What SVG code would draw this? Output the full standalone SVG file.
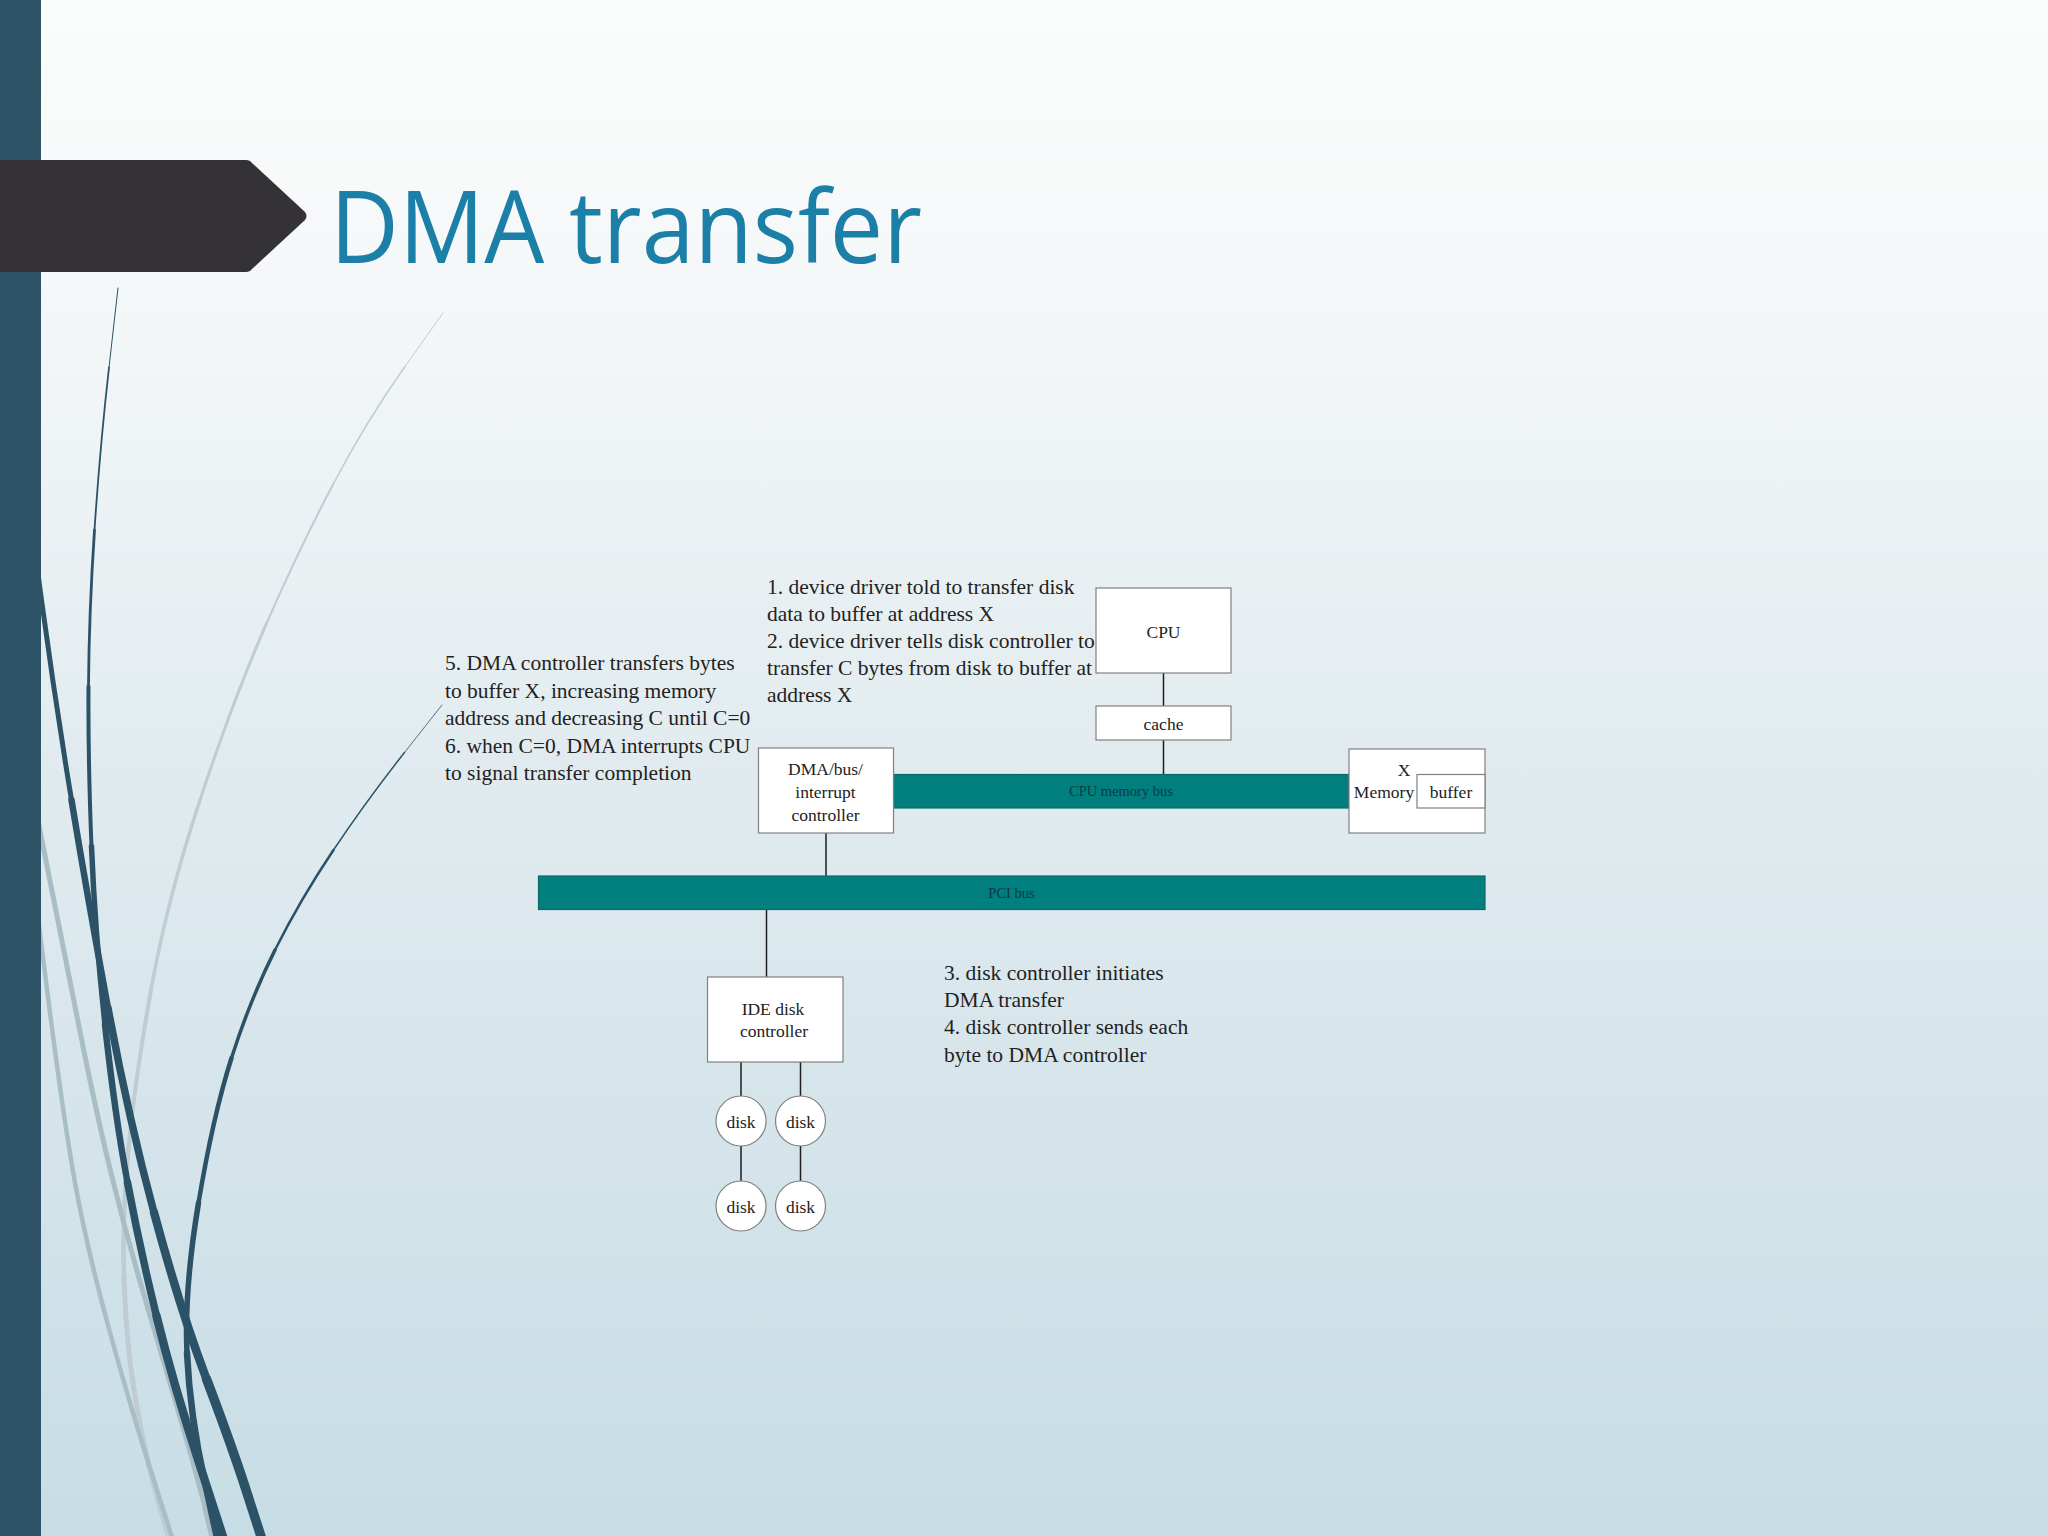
<svg xmlns="http://www.w3.org/2000/svg" width="2048" height="1536" viewBox="0 0 2048 1536">
  <defs>
    <linearGradient id="bg" x1="0" y1="0" x2="0" y2="1">
      <stop offset="0" stop-color="#fbfcfc"/>
      <stop offset="0.2" stop-color="#f4f7f8"/>
      <stop offset="0.5" stop-color="#e1ebef"/>
      <stop offset="1" stop-color="#c7dde5"/>
    </linearGradient>
    <style>
      .dk { fill: none; stroke: #2c5268; stroke-linecap: round; }
      .gl { fill: none; stroke: #bfccd2; stroke-linecap: round; }
      .gm { fill: none; stroke: #a9bdc5; stroke-linecap: round; }
      .box { fill: #ffffff; stroke: #808080; stroke-width: 1.2; }
      .bus { fill: #017f7f; stroke: #0a6a6a; stroke-width: 1.2; }
      .lbl { font-family: "Liberation Serif", "Times New Roman", serif; font-size: 17.5px; fill: #222222; text-anchor: middle; }
      .buslbl { font-family: "Liberation Serif", "Times New Roman", serif; font-size: 14.5px; fill: #0c3a40; text-anchor: middle; }
      .note { font-family: "Liberation Serif", "Times New Roman", serif; font-size: 21.5px; fill: #222222; }
      .conn { stroke: #1e1e1e; stroke-width: 1.5; fill: none; }
    </style>
  </defs>

  <rect x="0" y="0" width="2048" height="1536" fill="url(#bg)"/>

  <!-- decorative swooshes -->
  <g id="swooshes">
    <!-- light gray D -->
    <path class="gl" stroke-width="1" d="M443 313 L405 366.5"/>
    <path class="gl" stroke-width="1.5" d="M405 366.5 Q367 420 333.5 483.5"/>
    <path class="gl" stroke-width="2" d="M333.5 483.5 Q300 547 266.5 623.5"/>
    <path class="gl" stroke-width="3" d="M266.5 623.5 Q233 700 200 800"/>
    <path class="gl" stroke-width="3.5" d="M200 800 Q167 900 151 990"/>
    <path class="gl" stroke-width="4" d="M151 990 Q135 1080 128.5 1148"/>
    <path class="gl" stroke-width="4.5" d="M128.5 1148 Q122 1216 124 1278"/>
    <path class="gl" stroke-width="5" d="M124 1278 Q126 1340 134 1390 Q142 1440 155 1490 L172 1550"/>
    <!-- gray E -->
    <path class="gm" stroke-width="5" d="M30 780 L48.5 873.5 Q67 967 82 1041.5 Q97 1116 111 1173 Q125 1230 142.5 1290 Q160 1350 175 1400 Q190 1450 202.5 1497.5 L215 1550"/>
    <!-- gray F -->
    <path class="gm" stroke-width="4.5" d="M32 870 L47.5 993 Q63 1116 75 1182.5 Q87 1249 110 1332.5 Q133 1416 154 1480.5 L176 1550"/>
    <!-- dark A -->
    <path class="dk" stroke-width="1" d="M118 288 L109 367.5"/>
    <path class="dk" stroke-width="1.8" d="M109 367.5 Q100 447 94.5 530"/>
    <path class="dk" stroke-width="2.8" d="M94.5 530 Q89 613 88.5 686.5"/>
    <path class="dk" stroke-width="4" d="M88.5 686.5 Q88 760 91.5 846.5"/>
    <path class="dk" stroke-width="5.5" d="M91.5 846.5 Q95 933 105 1024.5"/>
    <path class="dk" stroke-width="6.5" d="M105 1024.5 Q115 1116 127.5 1182.5"/>
    <path class="dk" stroke-width="7.5" d="M127.5 1182.5 Q140 1249 156.5 1316"/>
    <path class="dk" stroke-width="8.5" d="M156.5 1316 Q173 1383 198 1459.5 L228 1552"/>
    <!-- dark B -->
    <path class="dk" stroke-width="5" d="M28 500 L41.5 600 Q55 700 71.5 800"/>
    <path class="dk" stroke-width="6.5" d="M71.5 800 Q88 900 108 1008"/>
    <path class="dk" stroke-width="7.5" d="M108 1008 Q128 1116 154 1212.5"/>
    <path class="dk" stroke-width="8.5" d="M154 1212.5 Q180 1309 206.5 1379"/>
    <path class="dk" stroke-width="9.5" d="M206.5 1379 Q233 1449 247.5 1494.5 L266 1552"/>
    <!-- dark C -->
    <path class="dk" stroke-width="0.8" d="M442 705 L404.5 752.5"/>
    <path class="dk" stroke-width="1.5" d="M404.5 752.5 Q367 800 333.5 850"/>
    <path class="dk" stroke-width="2.5" d="M333.5 850 Q300 900 275 950"/>
    <path class="dk" stroke-width="3.5" d="M275 950 Q250 1000 231.5 1058"/>
    <path class="dk" stroke-width="4.5" d="M231.5 1058 Q213 1116 198.5 1203"/>
    <path class="dk" stroke-width="5.5" d="M198.5 1203 Q184 1290 187 1353"/>
    <path class="dk" stroke-width="6.5" d="M187 1353 Q190 1416 205 1483 L220 1552"/>
  </g>

  <!-- left bar and title tab -->
  <rect x="0" y="0" width="41" height="1536" fill="#2e5366"/>
  <path d="M0 160 L246 160 Q250 160 252 163 L305 212 Q308 216 305 220 L252 269 Q250 272 246 272 L0 272 Z" fill="#343234"/>

  <text x="330" y="263" font-family="'Open Sans', 'Noto Sans', sans-serif" font-size="100" fill="#1b7fa8" textLength="592" lengthAdjust="spacingAndGlyphs">DMA transfer</text>

  <!-- connectors -->
  <g id="connectors">
    <line class="conn" x1="1163.5" y1="673" x2="1163.5" y2="706"/>
    <line class="conn" x1="1163.5" y1="740" x2="1163.5" y2="774"/>
    <line class="conn" x1="826" y1="833" x2="826" y2="876"/>
    <line class="conn" x1="766.5" y1="909" x2="766.5" y2="977"/>
    <line class="conn" x1="741" y1="1062" x2="741" y2="1096"/>
    <line class="conn" x1="800.5" y1="1062" x2="800.5" y2="1096"/>
    <line class="conn" x1="741" y1="1146" x2="741" y2="1181"/>
    <line class="conn" x1="800.5" y1="1146" x2="800.5" y2="1181"/>
  </g>

  <!-- nodes -->
  <g id="cpu">
    <rect class="box" x="1096" y="588" width="135" height="85"/>
    <text class="lbl" x="1163.5" y="638">CPU</text>
  </g>
  <g id="cache">
    <rect class="box" x="1096" y="706" width="135" height="34"/>
    <text class="lbl" x="1163.5" y="730">cache</text>
  </g>
  <g id="cpu-memory-bus">
    <rect class="bus" x="893" y="774.5" width="456" height="33.5"/>
    <text class="buslbl" x="1121" y="796">CPU memory bus</text>
  </g>
  <g id="memory">
    <rect class="box" x="1349" y="749" width="136" height="84"/>
    <text class="lbl" x="1404" y="776">X</text>
    <text class="lbl" x="1384" y="798">Memory</text>
  </g>
  <g id="buffer">
    <rect class="box" x="1417" y="774.5" width="68" height="33.5"/>
    <text class="lbl" x="1451" y="798">buffer</text>
  </g>
  <g id="dma-controller">
    <rect class="box" x="758.5" y="748" width="135" height="85"/>
    <text class="lbl" x="825.5" y="775">DMA/bus/</text>
    <text class="lbl" x="825.5" y="798">interrupt</text>
    <text class="lbl" x="825.5" y="821">controller</text>
  </g>
  <g id="pci-bus">
    <rect class="bus" x="538.5" y="876" width="946.5" height="33.5"/>
    <text class="buslbl" x="1011.5" y="898">PCI bus</text>
  </g>
  <g id="ide-controller">
    <rect class="box" x="707.5" y="977" width="135.5" height="85"/>
    <text class="lbl" x="773" y="1015">IDE disk</text>
    <text class="lbl" x="774" y="1037">controller</text>
  </g>
  <g id="disk1">
    <circle class="box" cx="741" cy="1121" r="25"/>
    <text class="lbl" x="741" y="1128">disk</text>
  </g>
  <g id="disk2">
    <circle class="box" cx="800.5" cy="1121" r="25"/>
    <text class="lbl" x="800.5" y="1128">disk</text>
  </g>
  <g id="disk3">
    <circle class="box" cx="741" cy="1206" r="25"/>
    <text class="lbl" x="741" y="1213">disk</text>
  </g>
  <g id="disk4">
    <circle class="box" cx="800.5" cy="1206" r="25"/>
    <text class="lbl" x="800.5" y="1213">disk</text>
  </g>

  <!-- step notes -->
  <g id="note-1-2">
    <text class="note" x="767" y="594">1. device driver told to transfer disk</text>
    <text class="note" x="767" y="621">data to buffer at address X</text>
    <text class="note" x="767" y="648">2. device driver tells disk controller to</text>
    <text class="note" x="767" y="675">transfer C bytes from disk to buffer at</text>
    <text class="note" x="767" y="702">address X</text>
  </g>
  <g id="note-5-6">
    <text class="note" x="445" y="670">5. DMA controller transfers bytes</text>
    <text class="note" x="445" y="697.5">to buffer X, increasing memory</text>
    <text class="note" x="445" y="725">address and decreasing C until C=0</text>
    <text class="note" x="445" y="752.5">6. when C=0, DMA interrupts CPU</text>
    <text class="note" x="445" y="780">to signal transfer completion</text>
  </g>
  <g id="note-3-4">
    <text class="note" x="944" y="980">3. disk controller initiates</text>
    <text class="note" x="944" y="1007">DMA transfer</text>
    <text class="note" x="944" y="1034">4. disk controller sends each</text>
    <text class="note" x="944" y="1062">byte to DMA controller</text>
  </g>
</svg>
